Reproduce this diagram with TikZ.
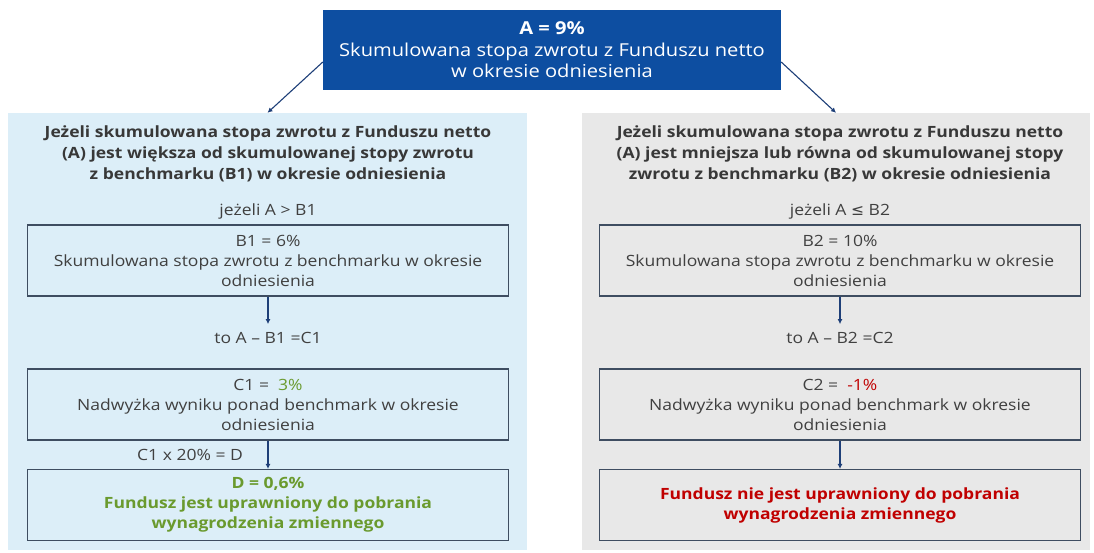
\documentclass[tikz,border=0pt]{standalone}
\usepackage{fontspec}
\setmainfont{Open Sans}[FakeStretch=1.13]
\newfontfamily\dejavu{DejaVu Sans}
\usetikzlibrary{arrows.meta}
\definecolor{topblue}{HTML}{0D4EA1}
\definecolor{leftbg}{HTML}{DCEEF8}
\definecolor{rightbg}{HTML}{E8E8E8}
\definecolor{boxline}{HTML}{3E4D61}
\definecolor{arrowblue}{HTML}{1E3F78}
\definecolor{txtgray}{HTML}{404040}
\definecolor{okgreen}{HTML}{6A9A2E}
\definecolor{nored}{HTML}{C00000}
\begin{document}
\begin{tikzpicture}[x=1pt, y=-1pt,
    every node/.style={font=\fontsize{15.5}{20}\selectfont, text=txtgray, inner sep=0pt, align=center},
    panel/.style={minimum height=437pt},
    stepbox/.style={draw=boxline, line width=1.1pt, minimum width=481pt, minimum height=71pt},
    titletxt/.style={font=\fontsize{15.5}{21}\selectfont\bfseries, text=black!78},
    conn/.style={draw=arrowblue, line width=1.1pt, -{Latex[length=5pt, width=5pt]}}]
    \useasboundingbox (0,0) rectangle (1094,552);
    % panels
    \node[panel, fill=leftbg, minimum width=519pt] (lpanel) at (267.5,331.5) {};
    \node[panel, fill=rightbg, minimum width=508pt] (rpanel) at (836,331.5) {};
    % top box
    \node[fill=topblue, minimum width=458pt, minimum height=80pt, text=white,
          font=\fontsize{17.8}{21.5}\selectfont] (top) at (552,50)
          {\textbf{A = 9\%}\\Skumulowana stopa zwrotu z Funduszu netto\\w okresie odniesienia};
    \draw[conn] (top.west) ++(0,12) -- (lpanel.north);
    \draw[conn] (top.east) ++(0,12) -- (rpanel.north);
    % left branch
    \node[titletxt] (ltitle) at (268,154) {Jeżeli skumulowana stopa zwrotu z Funduszu netto\\(A) jest większa od skumulowanej stopy zwrotu\\z benchmarku (B1) w okresie odniesienia};
    \node (lif) at (268,211) {jeżeli A > B1};
    \node[stepbox] (b1) at (268,260.5) {B1 = 6\%\\Skumulowana stopa zwrotu z benchmarku w okresie\\odniesienia};
    \node (lthen) at (268,338) {to A – B1 =C1};
    \node[stepbox] (c1) at (268,404.5) {C1 = \ \textcolor{okgreen}{3\%}\\Nadwyżka wyniku ponad benchmark w okresie\\odniesienia};
    \node[stepbox, font=\fontsize{15.5}{20}\selectfont\bfseries, text=okgreen] (d1) at (268,505) {D = 0,6\%\\Fundusz jest uprawniony do pobrania\\wynagrodzenia zmiennego};
    \node (lmul) at (190,455) {C1 x 20\% = D};
    \draw[conn] (b1.south) -- (lthen.north) [shorten >=8pt];
    \draw[conn] (c1.south) -- (d1.north);
    % right branch
    \node[titletxt] (rtitle) at (840,154) {Jeżeli skumulowana stopa zwrotu z Funduszu netto\\(A) jest mniejsza lub równa od skumulowanej stopy\\zwrotu z benchmarku (B2) w okresie odniesienia};
    \node (rif) at (840,211) {jeżeli A {\dejavu ≤} B2};
    \node[stepbox] (b2) at (840,260.5) {B2 = 10\%\\Skumulowana stopa zwrotu z benchmarku w okresie\\odniesienia};
    \node (rthen) at (840,338) {to A – B2 =C2};
    \node[stepbox] (c2) at (840,404.5) {C2 = \ \textcolor{nored}{-1\%}\\Nadwyżka wyniku ponad benchmark w okresie\\odniesienia};
    \node[stepbox, font=\fontsize{15.5}{20}\selectfont\bfseries, text=nored] (d2) at (840,505) {Fundusz nie jest uprawniony do pobrania\\wynagrodzenia zmiennego};
    \draw[conn] (b2.south) -- (rthen.north) [shorten >=8pt];
    \draw[conn] (c2.south) -- (d2.north);
\end{tikzpicture}
\end{document}
